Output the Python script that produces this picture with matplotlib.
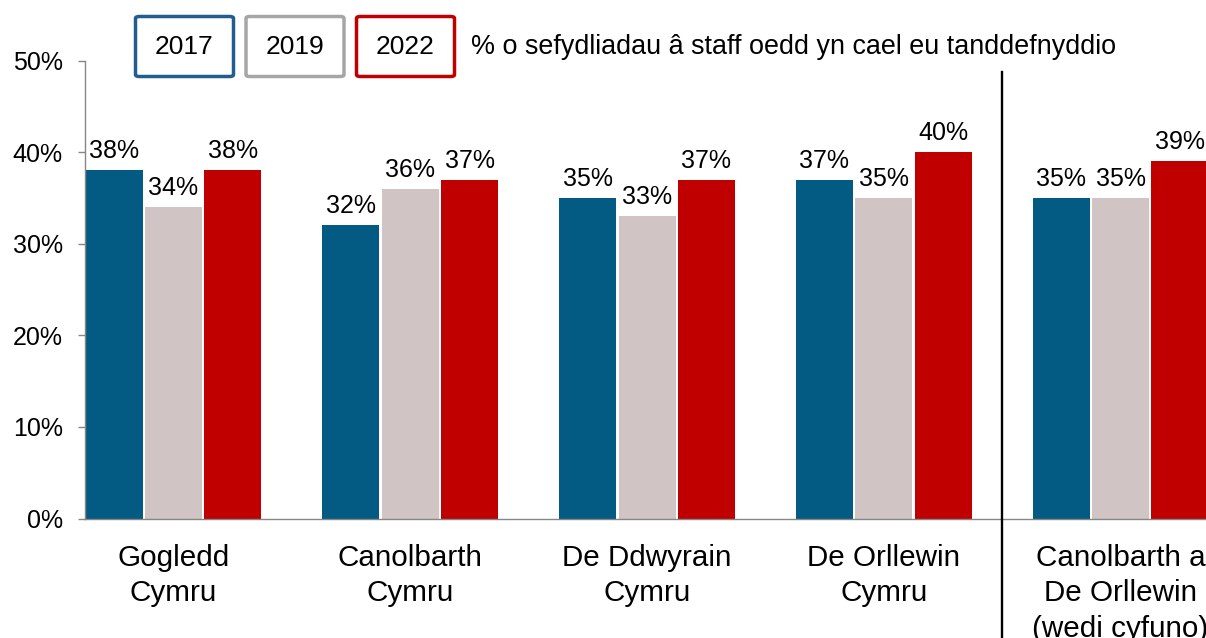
import numpy as np
import matplotlib
matplotlib.use("Agg")
import matplotlib.pyplot as plt
from matplotlib.patches import FancyBboxPatch

plt.rcParams['font.family'] = ['Liberation Sans', 'DejaVu Sans']

regions = ["Gogledd\nCymru", "Canolbarth\nCymru", "De Ddwyrain\nCymru",
           "De Orllewin\nCymru", "Canolbarth a\nDe Orllewin\n(wedi cyfuno)"]
years = ["2017", "2019", "2022"]
vals_2017 = [38, 32, 35, 37, 35]
vals_2019 = [34, 36, 33, 35, 35]
vals_2022 = [38, 37, 37, 40, 39]
title_text = "% o sefydliadau â staff oedd yn cael eu tanddefnyddio"

bar_colors = ["#035A82", "#D0C4C4", "#C00000"]
box_colors = ["#215D8F", "#A6A6A6", "#C00000"]

W, H = 1206, 638
fig = plt.figure(figsize=(W / 100, H / 100), dpi=100)
ax = fig.add_axes([85 / W, (H - 518.5) / H, 1 - 85 / W, (518.5 - 60.5) / H])

x = np.arange(len(regions))
step = 0.251
width = 0.241
for i, vals in enumerate([vals_2017, vals_2019, vals_2022]):
    pos = x + (i - 1) * step
    ax.bar(pos, vals, width=width, color=bar_colors[i], zorder=2)
    for px, v in zip(pos, vals):
        ax.annotate(f"{v}%", (px, v), xytext=(0, 5), textcoords="offset points",
                    ha="center", va="bottom", fontsize=18, color="black")

ax.set_ylim(0, 50)
ax.set_xlim(-0.374, 4.361)
ax.set_yticks(range(0, 51, 10))
ax.set_yticklabels([f"{t}%" for t in range(0, 51, 10)], fontsize=18)
ax.tick_params(axis="y", direction="out", length=5, width=1, color="#868686", pad=11)
ax.set_xticks(x)
ax.set_xticklabels(regions, fontsize=21.3, linespacing=1.36)
ax.tick_params(axis="x", length=0, pad=18)

for s in ["top", "right"]:
    ax.spines[s].set_visible(False)
ax.spines["left"].set_color("#868686")
ax.spines["bottom"].set_color("#868686")
ax.spines["left"].set_linewidth(1.0)
ax.spines["bottom"].set_linewidth(1.0)

# divider between single regions and the combined one
sep_x = ax.transData.transform((3.5, 0))[0] / W
fig.add_artist(plt.Line2D([sep_x, sep_x], [0, 1 - 72 / H], color="black", lw=1.7))

# year key boxes along the top
for i, yr in enumerate(years):
    cx = 184.5 + i * 110.5
    bw, bh = 98, 60
    box = FancyBboxPatch(((cx - bw / 2) / W, 1 - (46.5 + bh / 2) / H), bw / W, bh / H,
                         boxstyle="round,pad=0,rounding_size=0.003",
                         transform=fig.transFigure, facecolor="white",
                         edgecolor=box_colors[i], linewidth=2.5)
    fig.add_artist(box)
    fig.text(cx / W, 1 - 47 / H, yr, ha="center", va="center", fontsize=19)

fig.text(471 / W, 1 - 47 / H, title_text, ha="left", va="center", fontsize=19.4)

fig.savefig("out.png", dpi=100)
